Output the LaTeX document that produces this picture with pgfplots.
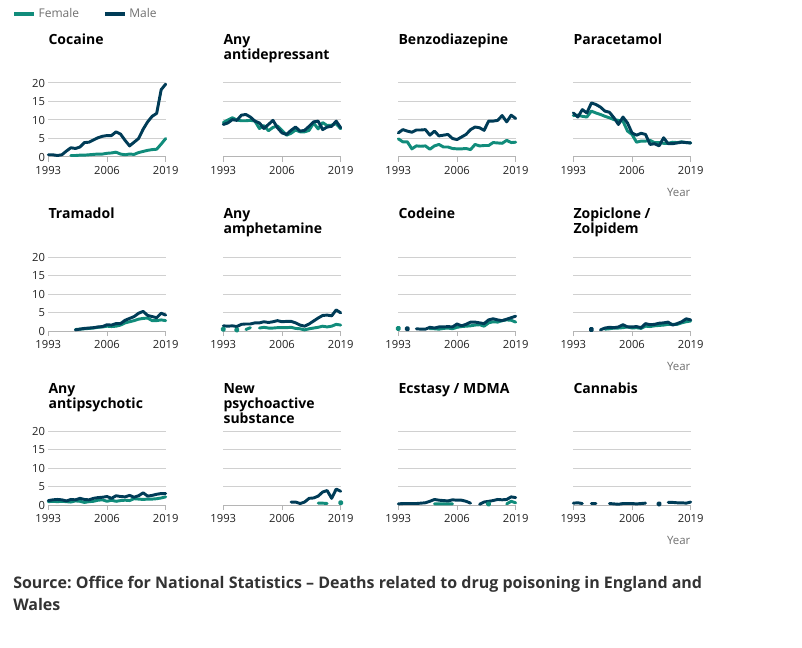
\documentclass[border=0pt]{standalone}
\usepackage{pgfplots}
\usepackage{pgfplotstable}
\pgfplotsset{compat=1.18}
\usepackage{fontspec}
\setmainfont{Open Sans}
\frenchspacing
\definecolor{male}{HTML}{003C57}
\definecolor{female}{HTML}{118C7B}
\definecolor{gridgray}{HTML}{D0D0D0}
\definecolor{axisgray}{HTML}{B5B5B5}
\definecolor{tickcol}{HTML}{222222}
\definecolor{leggray}{HTML}{707070}
\definecolor{srccol}{HTML}{333333}
\newcommand{\ticksf}{\fontsize{8.4}{10}\selectfont}
\newcommand{\titlef}{\fontsize{10.5}{12}\selectfont\bfseries}

\pgfplotstableread{
Y F M
1993 nan 0.6
1994 nan 0.6
1995 nan 0.4
1996 nan 0.6
1997 nan 1.6
1998 0.4 2.5
1999 0.4 2.3
2000 0.5 2.7
2001 0.5 3.9
2002 0.6 4.0
2003 0.7 4.6
2004 0.8 5.2
2005 0.8 5.6
2006 1.0 5.8
2007 1.1 5.8
2008 1.3 6.8
2009 0.8 6.2
2010 0.6 4.5
2011 0.8 3.0
2012 0.7 4.0
2013 1.2 5.0
2014 1.5 7.5
2015 1.8 9.5
2016 2.0 11.0
2017 2.1 11.8
2018 3.5 18.2
2019 5.0 19.7
}\tcoc
\pgfplotstableread{
Y F M
1993 9.3 8.8
1994 10.0 9.2
1995 10.6 10.1
1996 10.0 9.9
1997 9.8 11.3
1998 9.8 11.5
1999 9.9 10.8
2000 9.7 9.7
2001 7.7 9.2
2002 8.5 7.7
2003 7.1 8.8
2004 8.0 9.9
2005 8.4 7.9
2006 7.2 6.5
2007 5.9 6.1
2008 6.4 7.2
2009 7.3 8.1
2010 6.8 7.0
2011 6.8 7.2
2012 7.2 8.3
2013 9.2 9.5
2014 7.6 9.7
2015 9.3 7.4
2016 8.5 8.1
2017 8.6 8.3
2018 9.0 9.7
2019 7.6 7.9
}\tadep
\pgfplotstableread{
Y F M
1993 4.9 6.5
1994 4.1 7.4
1995 4.1 7.0
1996 2.2 6.7
1997 3.0 7.3
1998 2.9 7.3
1999 3.0 7.4
2000 2.1 5.9
2001 3.0 7.0
2002 3.4 5.7
2003 2.7 5.9
2004 2.7 6.1
2005 2.3 5.0
2006 2.2 4.7
2007 2.2 5.4
2008 2.3 6.1
2009 2.0 7.4
2010 3.4 8.1
2011 3.0 7.9
2012 3.1 7.2
2013 3.1 9.7
2014 3.9 9.7
2015 3.8 9.9
2016 3.7 11.2
2017 4.5 9.5
2018 3.9 11.3
2019 4.0 10.4
}\tbenzo
\pgfplotstableread{
Y F M
1993 11.2 11.9
1994 11.3 10.8
1995 11.0 12.8
1996 10.8 11.9
1997 12.4 14.6
1998 11.9 14.2
1999 11.5 13.5
2000 11.0 12.4
2001 10.6 12.1
2002 10.1 10.6
2003 9.9 8.8
2004 9.7 10.8
2005 7.0 9.2
2006 6.1 6.5
2007 4.0 5.9
2008 4.3 6.4
2009 4.3 6.1
2010 4.5 3.4
2011 3.9 3.6
2012 3.9 3.0
2013 3.7 5.2
2014 3.7 3.6
2015 4.0 3.6
2016 3.9 3.8
2017 4.1 4.0
2018 3.9 3.9
2019 3.8 3.8
}\tpara
\pgfplotstableread{
Y F M
1999 0.4 0.3
2000 0.5 0.5
2001 0.6 0.7
2002 0.7 0.8
2003 0.8 0.9
2004 1.0 1.1
2005 1.1 1.2
2006 1.3 1.7
2007 1.2 1.6
2008 1.3 2.0
2009 1.6 2.0
2010 2.2 2.9
2011 2.5 3.4
2012 2.8 3.9
2013 3.2 4.8
2014 3.4 5.3
2015 3.5 4.2
2016 2.8 3.9
2017 2.8 3.6
2018 3.0 4.8
2019 2.8 4.3
}\ttram
\pgfplotstableread{
Y F M
1993 0.5 1.4
1994 nan 1.3
1995 nan 1.4
1996 0.3 1.2
1997 nan 1.8
1998 0.4 1.9
1999 0.9 1.9
2000 nan 2.2
2001 0.8 2.2
2002 1.0 2.5
2003 0.8 2.3
2004 0.8 2.5
2005 0.9 2.8
2006 0.9 2.5
2007 0.9 2.6
2008 1.0 2.6
2009 0.7 2.2
2010 0.6 1.6
2011 0.3 1.3
2012 0.6 1.9
2013 0.8 2.7
2014 1.0 3.5
2015 1.3 4.2
2016 1.1 4.3
2017 1.3 4.1
2018 1.8 5.7
2019 1.6 4.9
}\tamph
\pgfplotstableread{
Y F M
1993 0.7 nan
1994 nan nan
1995 nan 0.6
1996 nan nan
1997 nan 0.6
1998 nan 0.5
1999 nan 0.5
2000 0.6 1.0
2001 0.6 0.8
2002 0.5 1.1
2003 0.7 1.1
2004 0.8 1.2
2005 0.6 1.1
2006 1.0 1.9
2007 1.2 1.4
2008 1.3 1.8
2009 1.4 2.4
2010 1.6 2.4
2011 1.7 2.2
2012 1.3 2.0
2013 2.2 3.0
2014 2.5 3.3
2015 2.4 3.0
2016 2.8 2.8
2017 3.0 3.2
2018 2.9 3.6
2019 2.4 4.0
}\tcod
\pgfplotstableread{
Y F M
1997 nan 0.4
1998 nan nan
1999 nan 0.3
2000 0.5 0.8
2001 0.6 1.0
2002 0.8 0.9
2003 0.8 1.1
2004 0.9 1.7
2005 1.1 1.1
2006 0.8 1.1
2007 0.9 1.2
2008 0.7 0.9
2009 1.3 2.0
2010 1.2 1.7
2011 1.4 1.8
2012 1.5 2.1
2013 1.6 2.2
2014 1.8 2.4
2015 1.8 1.6
2016 1.8 2.0
2017 2.2 2.5
2018 2.5 3.3
2019 2.7 3.0
}\tzop
\pgfplotstableread{
Y F M
1993 0.9 1.2
1994 1.0 1.4
1995 0.9 1.5
1996 1.0 1.4
1997 0.9 1.1
1998 0.8 1.5
1999 1.1 1.4
2000 1.0 1.8
2001 0.7 1.5
2002 0.9 1.4
2003 1.0 1.8
2004 1.3 2.0
2005 1.4 2.1
2006 1.0 2.3
2007 1.3 1.8
2008 1.0 2.5
2009 1.2 2.3
2010 1.3 2.2
2011 1.2 2.6
2012 1.7 2.1
2013 1.6 2.5
2014 1.5 3.3
2015 1.6 2.4
2016 1.6 2.6
2017 1.7 2.9
2018 1.9 3.1
2019 2.2 3.1
}\tapsy
\pgfplotstableread{
Y F M
2008 nan 0.8
2009 nan 0.8
2010 nan 0.4
2011 nan 0.8
2012 nan 1.8
2013 nan 1.9
2014 0.5 2.4
2015 0.5 3.5
2016 0.4 3.9
2017 nan 1.8
2018 nan 4.3
2019 0.6 3.7
}\tnps
\pgfplotstableread{
Y F M
1993 nan 0.3
1994 nan 0.4
1995 nan 0.4
1996 nan 0.4
1997 nan 0.4
1998 nan 0.5
1999 nan 0.6
2000 nan 1.0
2001 0.3 1.5
2002 0.3 1.3
2003 0.3 1.2
2004 0.3 1.1
2005 0.3 1.4
2006 nan 1.3
2007 nan 1.3
2008 nan 1.0
2009 nan 0.5
2010 nan nan
2011 nan 0.2
2012 nan 0.8
2013 0.3 1.0
2014 nan 1.2
2015 nan 1.5
2016 nan 1.4
2017 0.3 1.5
2018 1.0 2.2
2019 0.6 2.0
}\tecs
\pgfplotstableread{
Y M
1993 0.5
1994 0.6
1995 0.4
1996 nan
1997 0.4
1998 0.4
1999 nan
2000 nan
2001 0.4
2002 0.3
2003 0.2
2004 0.4
2005 0.4
2006 0.4
2007 0.3
2008 0.4
2009 0.5
2010 nan
2011 nan
2012 0.3
2013 nan
2014 0.7
2015 0.7
2016 0.6
2017 0.6
2018 0.5
2019 0.8
}\tcan

\pgfplotsset{
  panel/.style={
    scale only axis, width=88.05pt, height=55.5pt,
    anchor=south west,
    xmin=1993, xmax=2019, ymin=0, ymax=20,
    clip=false,
    axis x line*=bottom, axis y line*=left,
    axis line style={-},
    y axis line style={draw=none},
    x axis line style={draw=axisgray, line width=0.75pt},
    xtick={1993,2006,2019},
    ytick={0,5,10,15,20},
    ymajorgrids, grid style={draw=gridgray, line width=0.75pt},
    ytick style={draw=none},
    xtick style={draw=axisgray, line width=0.75pt},
    xtick align=outside, major tick length=3.75pt,
    /pgf/number format/1000 sep={},
    /pgf/number format/assume math mode=true,
    ticklabel style={font=\ticksf, text=tickcol},
    xticklabel style={anchor=north, inner sep=0pt, yshift=-3.2pt},
    yticklabel style={anchor=east, inner sep=0pt, xshift=-2.3pt},
    yticklabels={},
    unbounded coords=jump,
    every axis plot/.append style={line width=2.2pt, line join=round, line cap=round},
  },
  ylab/.style={yticklabels={0,5,10,15,20}},
  fem/.style={female},
  mal/.style={male},
  iso/.style={only marks, mark=*, mark size=1.0pt},
}

\begin{document}
\begin{tikzpicture}
\path[use as bounding box] (0,0) rectangle (601.5pt,485.25pt);

% ---------- Row 1 ----------
\begin{axis}[panel, ylab, at={(36.225pt,367.5pt)},
  legend style={draw=none, fill=none, inner sep=0pt, outer sep=0pt,
    at={(axis description cs:-0.305,1.9324)}, anchor=west,
    font=\fontsize{9}{11}\selectfont, text=leggray,
    /tikz/every even column/.append style={column sep=16pt}},
  legend columns=2, legend cell align=left,
  legend image code/.code={\draw[#1, line width=2.6pt, line cap=butt] (0pt,0pt) -- (15pt,0pt);}]
\addplot[fem] table[x=Y,y=F]{\tcoc};
\addlegendentry{Female}
\addplot[mal] table[x=Y,y=M]{\tcoc};
\addlegendentry{Male}
\end{axis}
\begin{axis}[panel, at={(167.475pt,367.5pt)}]
\addplot[fem] table[x=Y,y=F]{\tadep};
\addplot[mal] table[x=Y,y=M]{\tadep};
\end{axis}
\begin{axis}[panel, at={(298.725pt,367.5pt)}]
\addplot[fem] table[x=Y,y=F]{\tbenzo};
\addplot[mal] table[x=Y,y=M]{\tbenzo};
\end{axis}
\begin{axis}[panel, at={(429.975pt,367.5pt)}]
\addplot[fem] table[x=Y,y=F]{\tpara};
\addplot[mal] table[x=Y,y=M]{\tpara};
\end{axis}

% ---------- Row 2 ----------
\begin{axis}[panel, ylab, at={(36.225pt,237pt)}]
\addplot[fem] table[x=Y,y=F]{\ttram};
\addplot[mal] table[x=Y,y=M]{\ttram};
\end{axis}
\begin{axis}[panel, at={(167.475pt,237pt)}]
\addplot[fem] table[x=Y,y=F]{\tamph};
\addplot[fem, iso] coordinates {(1993,0.5) (1996,0.3)};
\addplot[mal] table[x=Y,y=M]{\tamph};
\end{axis}
\begin{axis}[panel, at={(298.725pt,237pt)}]
\addplot[fem] table[x=Y,y=F]{\tcod};
\addplot[fem, iso] coordinates {(1993,0.7)};
\addplot[mal] table[x=Y,y=M]{\tcod};
\addplot[mal, iso] coordinates {(1995,0.6)};
\end{axis}
\begin{axis}[panel, at={(429.975pt,237pt)}]
\addplot[fem] table[x=Y,y=F]{\tzop};
\addplot[mal] table[x=Y,y=M]{\tzop};
\addplot[mal, iso] coordinates {(1997,0.4)};
\end{axis}

% ---------- Row 3 ----------
\begin{axis}[panel, ylab, at={(36.225pt,106.5pt)}]
\addplot[fem] table[x=Y,y=F]{\tapsy};
\addplot[mal] table[x=Y,y=M]{\tapsy};
\end{axis}
\begin{axis}[panel, at={(167.475pt,106.5pt)}]
\addplot[fem] table[x=Y,y=F]{\tnps};
\addplot[fem, iso] coordinates {(2019,0.6)};
\addplot[mal] table[x=Y,y=M]{\tnps};
\end{axis}
\begin{axis}[panel, at={(298.725pt,106.5pt)}]
\addplot[fem] table[x=Y,y=F]{\tecs};
\addplot[fem, iso] coordinates {(2013,0.3)};
\addplot[mal] table[x=Y,y=M]{\tecs};
\end{axis}
\begin{axis}[panel, at={(429.975pt,106.5pt)}]
\addplot[mal] table[x=Y,y=M]{\tcan};
\addplot[mal, iso] coordinates {(2012,0.3)};
\end{axis}

% ---------- Titles ----------
\begin{scope}[every node/.style={anchor=base west, inner sep=0pt, font=\titlef, text=black}]
\node at (36.225pt,451.5pt) {Cocaine};
\node at (167.475pt,451.5pt) {Any};
\node at (167.475pt,440.25pt) {antidepressant};
\node at (298.725pt,451.5pt) {Benzodiazepine};
\node at (429.975pt,451.5pt) {Paracetamol};
\node at (36.225pt,321pt) {Tramadol};
\node at (167.475pt,321pt) {Any};
\node at (167.475pt,309.75pt) {amphetamine};
\node at (298.725pt,321pt) {Codeine};
\node at (429.975pt,321pt) {Zopiclone /};
\node at (429.975pt,309.75pt) {Zolpidem};
\node at (36.225pt,190.5pt) {Any};
\node at (36.225pt,179.25pt) {antipsychotic};
\node at (167.475pt,190.5pt) {New};
\node at (167.475pt,179.25pt) {psychoactive};
\node at (167.475pt,168pt) {substance};
\node at (298.725pt,190.5pt) {Ecstasy / MDMA};
\node at (429.975pt,190.5pt) {Cannabis};
\end{scope}

% ---------- Year labels ----------
\begin{scope}[every node/.style={anchor=base east, inner sep=0pt, font=\fontsize{8.6}{10}\selectfont, text=leggray}]
\node at (518pt,337.875pt) {Year};
\node at (518pt,207.375pt) {Year};
\node at (518pt,76.875pt) {Year};
\end{scope}

% ---------- Source ----------
\begin{scope}[every node/.style={anchor=base west, inner sep=0pt, font=\fontsize{12}{16}\selectfont\bfseries, text=srccol}]
\node at (9.75pt,44.25pt) {Source: Office for National Statistics – Deaths related to drug poisoning in England and};
\node at (9.75pt,27.75pt) {Wales};
\end{scope}
\end{tikzpicture}
\end{document}
